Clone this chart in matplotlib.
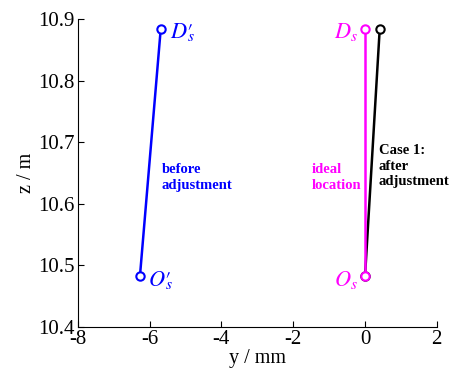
import matplotlib.pyplot as plt

plt.rcParams['font.family'] = 'Liberation Serif'
plt.rcParams['mathtext.fontset'] = 'stix'

# extremites des trois lignes (y en mm, z en m)
z_pts = [10.482, 10.884]
y_avant = [-6.27, -5.69]
y_ideal = [0.0, 0.0]
y_apres = [0.0, 0.41]

fig = plt.figure(figsize=(4.55, 3.82), dpi=100)
ax = fig.add_axes([0.171, 0.144, 0.789, 0.806])

ax.plot(y_apres, z_pts, color='black', lw=1.8, marker='o', ms=6,
        mfc='white', mew=1.5)
ax.plot(y_avant, z_pts, color='blue', lw=1.8, marker='o', ms=6,
        mfc='white', mew=1.5)
ax.plot(y_ideal, z_pts, color='magenta', lw=1.8, marker='o', ms=6,
        mfc='white', mew=1.5)

# noms des points
ax.text(y_avant[1] + 0.25, z_pts[1] - 0.005, r"$D′\!\!_s$", color='blue', fontsize=16,
        ha='left', va='center')
ax.text(y_avant[0] + 0.22, z_pts[0] - 0.005, r"$O′\!\!_s$", color='blue', fontsize=16,
        ha='left', va='center')
ax.text(y_ideal[1] - 0.2, z_pts[1] - 0.005, r"$D_s$", color='magenta', fontsize=16,
        ha='right', va='center')
ax.text(y_ideal[0] - 0.2, z_pts[0] - 0.005, r"$O_s$", color='magenta', fontsize=16,
        ha='right', va='center')

ax.text(-5.66, 10.643, "before\nadjustment", color='blue', fontsize=10.5,
        fontweight='bold', ha='left', va='center', linespacing=1.25)
ax.text(-1.48, 10.643, "ideal\nlocation", color='magenta', fontsize=10.5,
        fontweight='bold', ha='left', va='center', linespacing=1.25)
ax.text(0.38, 10.661, "Case 1:\nafter\nadjustment", color='black', fontsize=10.5,
        fontweight='bold', ha='left', va='center', linespacing=1.25)

ax.set_xlim(-8, 2)
ax.set_ylim(10.4, 10.9)
ax.set_xticks([-8, -6, -4, -2, 0, 2])
ax.set_xticklabels(['-8', '-6', '-4', '-2', '0', '2'])
ax.set_yticks([10.4, 10.5, 10.6, 10.7, 10.8, 10.9])
ax.spines['top'].set_visible(False)
ax.spines['right'].set_visible(False)
ax.tick_params(direction='in', length=4, labelsize=15, pad=2)
ax.set_xlabel('y / mm', fontsize=14.5, labelpad=0)
ax.set_ylabel('z / m', fontsize=14.5, labelpad=2)

fig.savefig('out.png', dpi=100)
